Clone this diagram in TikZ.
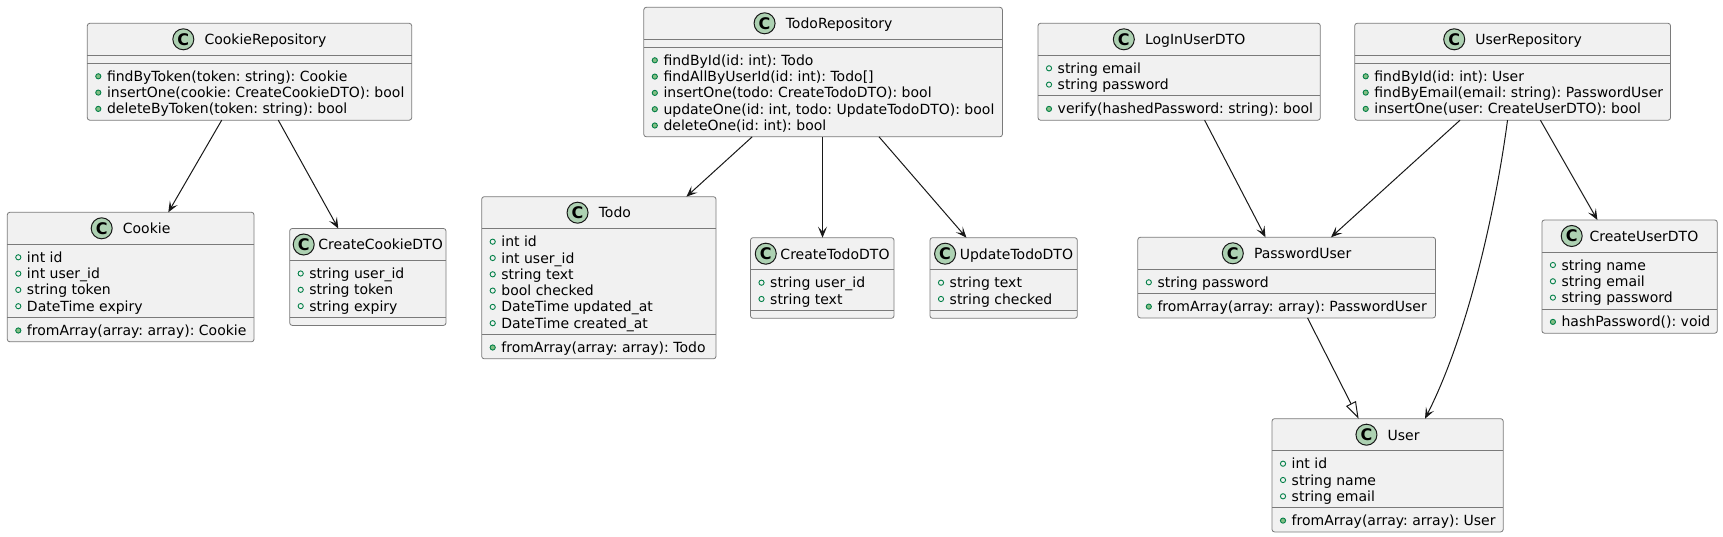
\documentclass[tikz,border=0pt]{standalone}
\usepackage{fontspec}
\setmainfont{DejaVu Sans}
\usetikzlibrary{arrows.meta}
\definecolor{boxfill}{HTML}{F1F1F1}
\definecolor{ink}{HTML}{181818}
\definecolor{border}{HTML}{7A7A7A}
\definecolor{iconfill}{HTML}{ADD1B2}
\definecolor{visgreen}{HTML}{038048}
\definecolor{visfill}{HTML}{84BE84}
\tikzset{
  umlbox/.style={draw=border, line width=0.8pt, fill=boxfill, rounded corners=2.5pt, inner sep=0pt, outer sep=0pt},
  sepline/.style={draw=border, line width=0.8pt},
  titletext/.style={inner sep=0pt, anchor=base, font=\fontsize{14}{16}\selectfont\frenchspacing},
  classicon/.style={circle, draw=ink, line width=1pt, fill=iconfill, minimum size=21pt, inner sep=0pt, font=\fontsize{16}{16}\selectfont\bfseries},
  rowtext/.style={inner sep=0pt, anchor=base west, font=\fontsize{14}{16}\selectfont\frenchspacing},
  fieldicon/.style={draw=visgreen, line width=0.9pt},
  methodicon/.style={draw=visgreen, fill=visfill, line width=0.9pt},
  assoc/.style={draw=ink, line width=1pt, -{Stealth[length=11pt,width=9pt,inset=5pt]}},
  inherit/.style={draw=ink, line width=1pt, -{Triangle[open,length=17pt,width=11pt,fill=white]}},
}
% #1 id, #2 left, #3 top, #4 right, #5 bottom, #6 title, #7 gap icon-title
\newcommand\umlclass[7]{%
  \node[umlbox, minimum width={#4-#2}, minimum height={#5-#3}, anchor=north west] (#1) at (#2,#3) {};
  \node[titletext] (#1-t) at ({(#2+#4)/2+(22+#7)/2},{#3+21.3}) {#6};
  \node[classicon] (#1-c) at ([xshift={-(#7)-11}, yshift=5.3]#1-t.base west) {C};
}
\newcommand\hsep[3]{\draw[sepline] (#1,#3) -- (#2,#3);}
% #1 id, #2 left, #3 separator y, #4 list
\newcommand\fieldrows[4]{%
  \foreach \t [count=\i from 0] in {#4} {
    \draw[fieldicon] ({#2+11},{#3+13+16.3*\i}) circle[radius=2.6];
    \node[rowtext] (#1-f\i) at ({#2+19.5},{#3+18+16.3*\i}) {\t};
  }}
\newcommand\methodrows[4]{%
  \foreach \t [count=\i from 0] in {#4} {
    \draw[methodicon] ({#2+11},{#3+13+16.3*\i}) circle[radius=2.6];
    \node[rowtext] (#1-m\i) at ({#2+19.5},{#3+18+16.3*\i}) {\t};
  }}
\begin{document}
\frenchspacing
\begin{tikzpicture}[x=1pt, y=-1pt]
\useasboundingbox (0,0) rectangle (1723,537);

% CookieRepository
\umlclass{crepo}{87.3}{23.3}{411.7}{120.2}{CookieRepository}{10}
\hsep{87.3}{411.7}{55.3}\hsep{87.3}{411.7}{63.3}
\methodrows{crepo}{87.3}{63.3}{{findByToken(token: string): Cookie},{insertOne(cookie: CreateCookieDTO): bool},{deleteByToken(token: string): bool}}

% Cookie
\umlclass{cookie}{7.3}{212.3}{254}{341.8}{Cookie}{10}
\hsep{7.3}{254}{244.3}\hsep{7.3}{254}{317.5}
\fieldrows{cookie}{7.3}{244.3}{{int id},{int user\_id},{string token},{DateTime expiry}}
\methodrows{cookie}{7.3}{317.5}{{fromArray(array: array): Cookie}}

% CreateCookieDTO
\umlclass{ccdto}{289.7}{228.5}{446}{325.4}{CreateCookieDTO}{3.5}
\hsep{289.7}{446}{260.5}\hsep{289.7}{446}{317.4}
\fieldrows{ccdto}{289.7}{260.5}{{string user\_id},{string token},{string expiry}}

% TodoRepository
\umlclass{trepo}{643.8}{7.3}{1002.4}{136.8}{TodoRepository}{10}
\hsep{643.8}{1002.4}{39.3}\hsep{643.8}{1002.4}{47.3}
\methodrows{trepo}{643.8}{47.3}{{findById(id: int): Todo},{findAllByUserId(id: int): Todo[]},{insertOne(todo: CreateTodoDTO): bool},{updateOne(id: int, todo: UpdateTodoDTO): bool},{deleteOne(id: int): bool}}

% Todo
\umlclass{todo}{481.7}{196.7}{716}{358.8}{Todo}{10}
\hsep{481.7}{716}{228.7}\hsep{481.7}{716}{334.5}
\fieldrows{todo}{481.7}{228.7}{{int id},{int user\_id},{string text},{bool checked},{DateTime updated\_at},{DateTime created\_at}}
\methodrows{todo}{481.7}{334.5}{{fromArray(array: array): Todo}}

% CreateTodoDTO
\umlclass{ctdto}{750.5}{237.7}{894}{318.3}{CreateTodoDTO}{3.5}
\hsep{750.5}{894}{269.7}\hsep{750.5}{894}{310.3}
\fieldrows{ctdto}{750.5}{269.7}{{string user\_id},{string text}}

% UpdateTodoDTO
\umlclass{utdto}{930}{237.7}{1077.3}{318.3}{UpdateTodoDTO}{3.5}
\hsep{930}{1077.3}{269.7}\hsep{930}{1077.3}{310.3}
\fieldrows{utdto}{930}{269.7}{{string text},{string checked}}

% LogInUserDTO
\umlclass{login}{1038}{23.3}{1320.3}{120.2}{LogInUserDTO}{10}
\hsep{1038}{1320.3}{55.3}\hsep{1038}{1320.3}{95.9}
\fieldrows{login}{1038}{55.3}{{string email},{string password}}
\methodrows{login}{1038}{95.9}{{verify(hashedPassword: string): bool}}

% UserRepository
\umlclass{urepo}{1354.7}{23.3}{1670.5}{120.2}{UserRepository}{10}
\hsep{1354.7}{1670.5}{55.3}\hsep{1354.7}{1670.5}{63.3}
\methodrows{urepo}{1354.7}{63.3}{{findById(id: int): User},{findByEmail(email: string): PasswordUser},{insertOne(user: CreateUserDTO): bool}}

% PasswordUser
\umlclass{puser}{1137.8}{237.3}{1435.5}{317.9}{PasswordUser}{10}
\hsep{1137.8}{1435.5}{269.3}\hsep{1137.8}{1435.5}{293.6}
\fieldrows{puser}{1137.8}{269.3}{{string password}}
\methodrows{puser}{1137.8}{293.6}{{fromArray(array: array): PasswordUser}}

% CreateUserDTO
\umlclass{cudto}{1541.9}{220}{1717.3}{333.2}{CreateUserDTO}{6.6}
\hsep{1541.9}{1717.3}{252}\hsep{1541.9}{1717.3}{308.9}
\fieldrows{cudto}{1541.9}{252}{{string name},{string email},{string password}}
\methodrows{cudto}{1541.9}{308.9}{{hashPassword(): void}}

% User
\umlclass{user}{1272}{418.7}{1503.2}{531.9}{User}{10}
\hsep{1272}{1503.2}{450.7}\hsep{1272}{1503.2}{507.6}
\fieldrows{user}{1272}{450.7}{{int id},{string name},{string email}}
\methodrows{user}{1272}{507.6}{{fromArray(array: array): User}}

% connectors
\draw[assoc] ([xshift=134.4pt]crepo.south west) -- ([xshift=161pt]cookie.north west);
\draw[assoc] ([xshift=191pt]crepo.south west) -- ([xshift=48.6pt]ccdto.north west);
\draw[assoc] ([xshift=108.4pt]trepo.south west) -- ([xshift=204.7pt]todo.north west);
\draw[assoc] ([xshift=178.7pt]trepo.south west) -- ([xshift=72pt]ctdto.north west);
\draw[assoc] ([xshift=235.2pt]trepo.south west) -- ([xshift=36.4pt]utdto.north west);
\draw[assoc] ([xshift=166.6pt]login.south west) -- ([xshift=127.7pt]puser.north west);
\draw[assoc] ([xshift=105.3pt]urepo.south west) -- ([xshift=193.2pt]puser.north west);
\draw[assoc] ([xshift=152.8pt]urepo.south west) .. controls +(-10.5,80) and +(45,-88.7) .. ([xshift=153pt]user.north west);
\draw[assoc] ([xshift=185.7pt]urepo.south west) -- ([xshift=55.5pt]cudto.north west);
\draw[inherit] ([xshift=169.7pt]puser.south west) -- ([xshift=86.6pt]user.north west);
\end{tikzpicture}
\end{document}
